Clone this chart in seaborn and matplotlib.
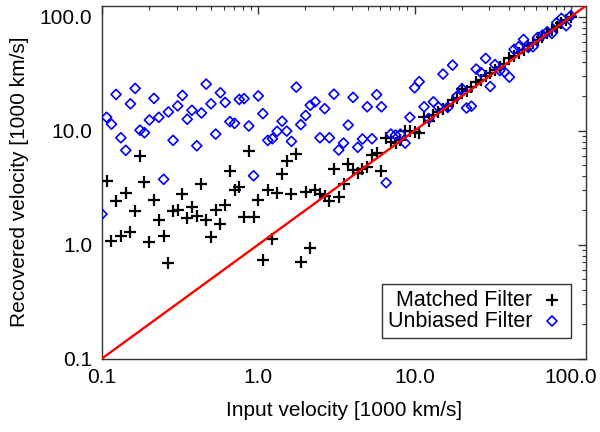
import numpy as np
import pandas as pd
import matplotlib
matplotlib.use("Agg")
import matplotlib.pyplot as plt
import matplotlib.ticker as mticker
import seaborn as sns

# ---------------- data ----------------
input_velocity = [
    0.100, 0.107, 0.115, 0.123, 0.132, 0.142, 0.152, 0.163, 0.175, 0.187,
    0.201, 0.215, 0.231, 0.248, 0.266, 0.285, 0.305, 0.327, 0.351, 0.376,
    0.404, 0.433, 0.464, 0.498, 0.534, 0.572, 0.614, 0.658, 0.705, 0.756,
    0.811, 0.870, 0.933, 1.00, 1.07, 1.15, 1.23, 1.32, 1.42, 1.52,
    1.63, 1.75, 1.87, 2.01, 2.15, 2.31, 2.48, 2.66, 2.85, 3.05,
    3.27, 3.51, 3.76, 4.04, 4.33, 4.64, 4.98, 5.34, 5.72, 6.14,
    6.58, 7.05, 7.56, 8.11, 8.70, 9.33, 10.0, 10.7, 11.5, 12.3,
    13.2, 14.2, 15.2, 16.3, 17.5, 18.7, 20.1, 21.5, 23.1, 24.8,
    26.6, 28.5, 30.5, 32.7, 35.1, 37.6, 40.4, 43.3, 46.4, 49.8,
    53.4, 57.2, 61.4, 65.8, 70.6, 75.6, 81.1, 87.0, 93.3, 100.0,
]

matched_filter = [
    np.nan, 3.61, 1.07, 2.41, 1.18, 2.85, 1.29, 1.96, 5.98, 3.52,
    1.06, 2.46, 1.63, 1.20, 0.693, 1.98, 2.01, 2.78, 1.70, 2.14,
    1.78, 3.38, 1.64, 1.17, 2.02, 1.51, 2.21, 4.42, 3.01, 3.20,
    1.75, 6.62, 1.75, 2.44, 0.736, 3.01, 1.11, 2.82, 4.19, 5.44,
    2.78, 6.23, 0.703, 2.89, 0.927, 3.01, 2.77, 2.67, 2.43, 4.60,
    2.63, 3.38, 5.09, 4.51, 4.26, 4.60, 4.76, 6.11, 6.32, 4.45,
    8.65, 7.99, 7.74, 8.27, 9.91, 10.0, 9.78, 9.59, 13.3, 12.1,
    13.8, 14.5, 15.5, 16.5, 18.5, 19.5, 23.0, 22.5, 24.0, 27.0,
    28.0, 30.0, 32.0, 34.0, 36.0, 38.5, 43.0, 45.0, 48.0, 51.0,
    55.0, 59.0, 63.0, 67.0, 72.0, 77.0, 82.0, 88.0, 94.0, 100.0,
]

unbiased_filter = [
    1.85, 13.1, 11.4, 20.8, 8.66, 6.72, 17.2, 23.5, 10.1, 9.59,
    12.4, 19.2, 13.1, 3.74, 14.6, 8.22, 16.5, 20.4, 12.6, 15.1,
    7.37, 14.3, 25.6, 17.2, 9.33, 21.5, 17.7, 12.0, 11.6, 18.8,
    19.1, 11.0, 4.02, 20.2, 14.1, 8.22, 8.49, 9.86, 12.1, 9.91,
    8.05, 24.1, 11.3, 13.6, 16.7, 17.9, 8.66, 15.6, 8.66, 20.9,
    6.76, 7.78, 11.2, 19.6, 7.14, 8.44, 16.2, 8.49, 20.7, 16.2,
    3.49, 9.33, 9.15, 9.33, 7.78, 13.1, 23.8, 26.9, 16.2, 12.8,
    17.9, 16.1, 31.4, 16.0, 37.6, 20.1, 23.3, 15.8, 16.4, 34.7,
    32.4, 43.1, 24.4, 38.0, 33.7, 32.7, 29.5, 51.7, 54.5, 63.2,
    53.8, 54.5, 65.9, 69.0, 73.8, 71.4, 88.5, 96.8, 83.3, 102.0,
]

one_to_one = [0.1, 125.0]
axis_range = [0.1, 125.0]
tick_values = [0.1, 1.0, 10.0, 100.0]
tick_labels = ["0.1", "1.0", "10.0", "100.0"]

# ---------------- styling ----------------
sns.set_style("white")
plt.rcParams["font.family"] = ["Liberation Sans", "DejaVu Sans"]
plt.rcParams["font.size"] = 15
for key in ("text.color", "axes.labelcolor", "xtick.color", "ytick.color",
            "xtick.labelcolor", "ytick.labelcolor"):
    plt.rcParams[key] = "black"

df = pd.DataFrame({"input": input_velocity,
                   "matched": matched_filter,
                   "unbiased": unbiased_filter})
line_df = pd.DataFrame({"x": one_to_one, "y": one_to_one})

fig = plt.figure(figsize=(6.0, 4.32), dpi=100)
ax = fig.add_axes([102 / 600, 1 - 358.5 / 432, 484 / 600, 352.8 / 432])

sns.scatterplot(data=df, x="input", y="matched", marker="+", color="black",
                s=80, linewidth=1.6, ax=ax, label="Matched Filter", zorder=3)
sns.scatterplot(data=df, x="input", y="unbiased", marker="D", s=26,
                facecolor="none", edgecolor="#0000ff", linewidth=1.2,
                ax=ax, label="Unbiased Filter", zorder=3)
sns.lineplot(data=line_df, x="x", y="y", color="red", linewidth=1.7,
             ax=ax, zorder=4, legend=False)

ax.set_xscale("log")
ax.set_yscale("log")
ax.set_xlim(axis_range)
ax.set_ylim(axis_range)

ax.set_xticks(tick_values)
ax.set_xticklabels(tick_labels)
ax.set_yticks(tick_values)
ax.set_yticklabels(tick_labels)
ax.xaxis.set_minor_locator(mticker.LogLocator(base=10, subs=np.arange(2, 10)))
ax.yaxis.set_minor_locator(mticker.LogLocator(base=10, subs=np.arange(2, 10)))
ax.xaxis.set_minor_formatter(mticker.NullFormatter())
ax.yaxis.set_minor_formatter(mticker.NullFormatter())

ax.tick_params(which="both", direction="in", top=True, right=True,
               color="#333333", labelsize=15, labelcolor="black")
ax.tick_params(which="major", length=5.5, width=1.0, pad=7)
ax.tick_params(which="minor", length=3.0, width=0.8)

for sp in ax.spines.values():
    sp.set_color("#333333")
    sp.set_linewidth(1.0)

ax.set_xlabel("Input velocity [1000 km/s]", fontsize=15, labelpad=10,
              color="black")
ax.set_ylabel("Recovered velocity [1000 km/s]", fontsize=15, labelpad=8,
              color="black")

leg = ax.legend(loc="lower right", bbox_to_anchor=(0.970, 0.059),
                borderaxespad=0, markerfirst=False, frameon=True,
                fancybox=False, edgecolor="black", fontsize=15.5,
                borderpad=0.28, labelspacing=0.0, handletextpad=0.3,
                handlelength=1.25, scatterpoints=1)
leg.get_frame().set_linewidth(1.0)
for t in leg.get_texts():
    t.set_color("black")

fig.savefig("out.png", dpi=100)
